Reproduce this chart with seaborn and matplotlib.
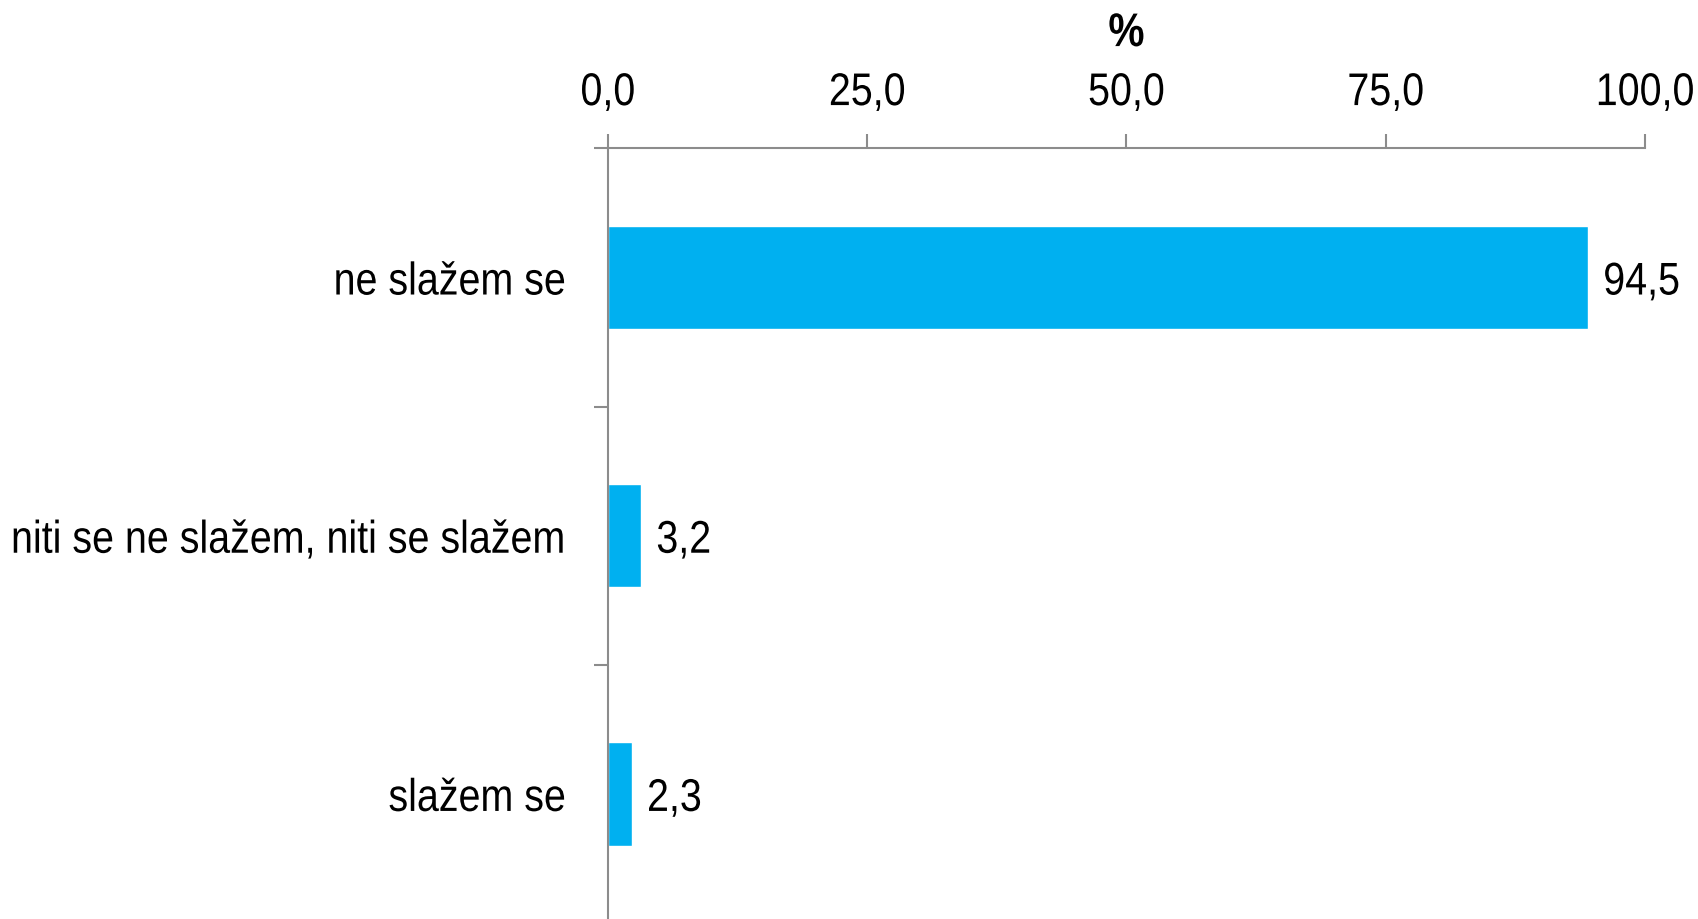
import matplotlib
matplotlib.use("Agg")
import matplotlib.pyplot as plt
import seaborn as sns
import pandas as pd
from matplotlib.ticker import FixedLocator, FuncFormatter
from matplotlib.patheffects import AbstractPathEffect
from matplotlib.transforms import Affine2D

categories = ["ne slažem se", "niti se ne slažem, niti se slažem", "slažem se"]
values = [94.5, 3.2, 2.3]
xticks = [0, 25, 50, 75, 100]


class Condense(AbstractPathEffect):
    """Narrow the glyphs horizontally (mimics a condensed typeface)."""
    def __init__(self, sx=0.83, anchor="left"):
        super().__init__()
        self.sx = sx
        self.anchor = anchor

    def draw_path(self, renderer, gc, tpath, affine, rgbFace=None):
        ext = tpath.get_extents()
        if self.anchor == "right":
            a = ext.x1
        elif self.anchor == "center":
            a = (ext.x0 + ext.x1) / 2
        else:
            a = 0
        t = Affine2D().translate(-a, 0).scale(self.sx, 1).translate(a, 0)
        renderer.draw_path(gc, tpath, t + affine, rgbFace)


SX = 0.86
sns.set_theme(style="white")
plt.rcParams["font.family"] = ["Liberation Sans", "DejaVu Sans"]
plt.rcParams["text.color"] = "black"
plt.rcParams["xtick.color"] = "black"
plt.rcParams["ytick.color"] = "black"

fig = plt.figure(figsize=(16.98, 9.19), dpi=100)
ax = fig.add_axes([0.358, -0.0044, 0.6108, 0.8429])

df = pd.DataFrame({"cat": categories, "val": values})
sns.barplot(data=df, x="val", y="cat", color="#00B0F0", width=0.4, ax=ax,
            saturation=1, orient="h")

ax.set_xlim(0, 100)
ax.set_ylim(2.5, -0.5)
gray = "#8c8c8c"
for s in ["right", "bottom"]:
    ax.spines[s].set_visible(False)
for s in ["left", "top"]:
    ax.spines[s].set_color(gray)
    ax.spines[s].set_linewidth(1.5)

FS = 33
ax.xaxis.set_ticks_position("top")
ax.xaxis.set_label_position("top")
ax.set_xticks(xticks)
ax.xaxis.set_major_formatter(FuncFormatter(lambda v, p: f"{v:.1f}".replace(".", ",")))
ax.tick_params(axis="x", which="major", direction="out", length=10, width=1.5,
               color=gray, pad=14, labelsize=FS, labelcolor="black", top=True, bottom=False)
ax.set_xlabel("%", fontsize=FS + 1, fontweight="bold", labelpad=18, color="black",
              path_effects=[Condense(SX, "center")])

ax.set_ylabel("")
ax.yaxis.set_minor_locator(FixedLocator([-0.5, 0.5, 1.5, 2.5]))
ax.tick_params(axis="y", which="major", length=0, pad=30, labelsize=FS, labelcolor="black")
ax.tick_params(axis="y", which="minor", direction="out", length=10, width=1.5,
               color=gray, left=True)

for lab in ax.get_xticklabels():
    lab.set_path_effects([Condense(SX, "center")])
for lab in ax.get_yticklabels():
    lab.set_path_effects([Condense(SX, "right")])

for c in ax.containers:
    texts = ax.bar_label(c, labels=[f"{v:.1f}".replace(".", ",") for v in values],
                         padding=11, fontsize=FS, color="black")
    for t in texts:
        t.set_va("center_baseline")
        t.set_path_effects([Condense(SX, "left")])

fig.savefig("out.png", dpi=100)
